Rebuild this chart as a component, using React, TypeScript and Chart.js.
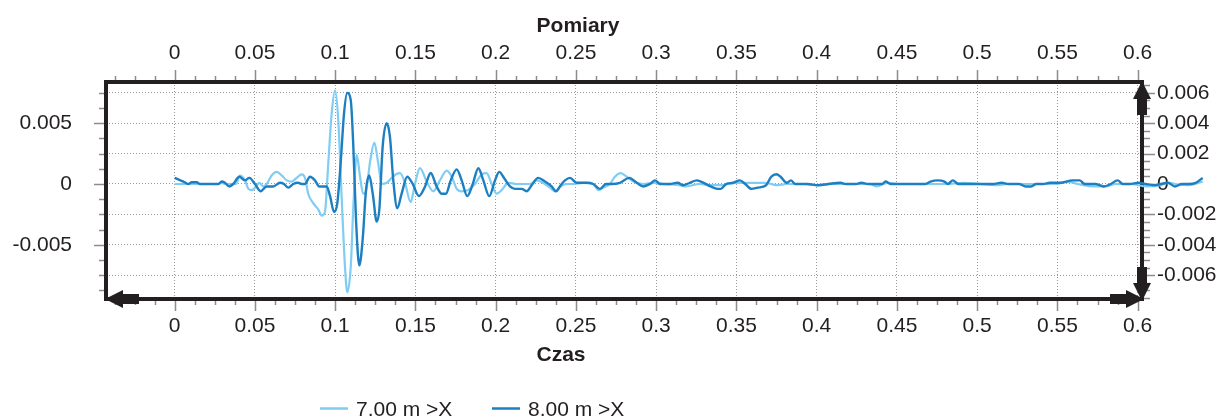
import React, { useEffect, useRef } from 'react';
import { Chart, registerables } from 'chart.js';

Chart.register(...registerables);

// ---------------- DATA ----------------
const seriesNames = ['7.00 m >X', '8.00 m >X'];

// 7.00 m >X  (time in s, amplitude)
const time7 = [
  0, 0.027, 0.0293, 0.0313, 0.0382, 0.0407, 0.0438, 0.0459, 0.048, 0.0507,
  0.0527, 0.0552, 0.0573, 0.0604, 0.0636, 0.0667, 0.0698, 0.0729, 0.076, 0.0791,
  0.0812, 0.0832, 0.0864, 0.0895, 0.0916, 0.0936, 0.0957, 0.0978, 0.0999, 0.1019,
  0.104, 0.1061, 0.1075, 0.1097, 0.1113, 0.1134, 0.1155, 0.1174, 0.1192, 0.1217,
  0.1244, 0.1267, 0.129, 0.1321, 0.1352, 0.1379, 0.1404, 0.1435, 0.147, 0.1497,
  0.1528, 0.157, 0.1611, 0.1653, 0.1695, 0.1726, 0.1757, 0.1788, 0.1829, 0.1871,
  0.1913, 0.1944, 0.1975, 0.2006, 0.2037, 0.2079, 0.2131, 0.2214, 0.2255, 0.2307,
  0.2338, 0.2369, 0.2405, 0.2442, 0.2483, 0.2546, 0.2608, 0.2639, 0.267, 0.2712,
  0.2743, 0.2779, 0.2816, 0.2857, 0.292, 0.2982, 0.3044, 0.3145, 0.3177, 0.3274,
  0.3339, 0.3403, 0.35, 0.3597, 0.3683, 0.3749, 0.3814, 0.3922, 0.4008, 0.4094,
  0.4202, 0.4331, 0.4375, 0.444, 0.4504, 0.472, 0.4806, 0.4914, 0.5022, 0.5108,
  0.5195, 0.5346, 0.5497, 0.5562, 0.5627, 0.5735, 0.58, 0.5865, 0.5951, 0.6059,
  0.6145, 0.6189, 0.6232, 0.6318, 0.6405,
];
const amp7 = [
  0, 0, 0.0001, 0, 0, 0.0007, 0.0003, -0.0004, -0.0005, -0.0002,
  0.0001, -0.0002, 0, 0.0007, 0.001, 0.0007, 0.0003, 0.0002, 0.0005, 0.0008,
  0.0005, -0.0008, -0.0016, -0.0021, -0.0026, -0.0023, 0.0017, 0.0058, 0.0077, 0.0053,
  -0.001, -0.0068, -0.0089, -0.0068, -0.0019, 0.0024, 0.0006, -0.0008, -0.0006, 0.0018,
  0.0034, 0.0018, 0, 0.0001, 0.0005, 0.0008, 0.0009, 0.0001, -0.0015, 0,
  0.0013, 0.0002, -0.0006, 0.0003, 0.0011, 0.0006, -0.0004, -0.0006, -0.0005, 0,
  0.0008, 0.0009, 0, -0.0008, -0.0005, 0.0001, 0, 0, 0.0003, 0,
  -0.0003, -0.0006, -0.0002, 0, 0, 0.0001, 0, -0.0005, -0.0003, 0,
  0.0006, 0.0009, 0.0006, 0.0002, 0, 0.0001, 0, -0.0001, -0.0002, 0,
  -0.0001, -0.0001, 0.0001, 0.0001, 0.0001, -0.0001, 0, 0, -0.0001, 0,
  0, 0, -0.0002, 0.0001, 0, 0, 0, 0.0001, 0, -0.0001,
  0, 0, 0, 0.0002, 0, -0.0002, -0.0002, 0, 0, -0.0002,
  -0.0001, 0.0001, 0, -0.0001, 0.0002,
];

// 8.00 m >X
const time8 = [
  0, 0.0054, 0.0085, 0.0106, 0.0137, 0.0158, 0.0272, 0.0293, 0.0313, 0.034,
  0.0365, 0.0402, 0.0438, 0.0465, 0.05, 0.0536, 0.0573, 0.0614, 0.0656, 0.0681,
  0.0708, 0.0739, 0.0768, 0.0791, 0.0812, 0.0843, 0.0874, 0.0901, 0.0947, 0.0968,
  0.0993, 0.1013, 0.1034, 0.1055, 0.1075, 0.1097, 0.1113, 0.113, 0.115, 0.1171,
  0.1192, 0.1212, 0.1234, 0.1259, 0.1275, 0.1296, 0.1321, 0.1341, 0.1362, 0.1387,
  0.1414, 0.1449, 0.1483, 0.1522, 0.156, 0.1595, 0.1632, 0.1664, 0.169, 0.172,
  0.1757, 0.1788, 0.1823, 0.1857, 0.1892, 0.1923, 0.196, 0.1996, 0.2022, 0.2052,
  0.2089, 0.212, 0.2162, 0.2193, 0.2224, 0.2265, 0.2307, 0.2349, 0.2376, 0.2405,
  0.2432, 0.2463, 0.2505, 0.2567, 0.2608, 0.265, 0.2687, 0.2723, 0.2774, 0.2832,
  0.2879, 0.292, 0.2961, 0.2993, 0.3024, 0.3082, 0.3135, 0.3166, 0.321, 0.3253,
  0.3296, 0.3339, 0.3382, 0.3403, 0.3436, 0.3479, 0.3522, 0.3555, 0.3594, 0.3631,
  0.3685, 0.3717, 0.3749, 0.3775, 0.3814, 0.3839, 0.3867, 0.3943, 0.4008, 0.4073,
  0.4148, 0.4181, 0.4246, 0.4278, 0.4321, 0.4407, 0.4429, 0.4461, 0.459, 0.4677,
  0.4709, 0.4753, 0.4796, 0.4817, 0.4849, 0.4882, 0.4958, 0.5022, 0.5098, 0.5152,
  0.5195, 0.526, 0.5303, 0.5336, 0.5368, 0.5411, 0.5454, 0.5519, 0.5594, 0.5638,
  0.567, 0.5735, 0.5789, 0.5832, 0.5875, 0.5907, 0.5951, 0.6005, 0.6048, 0.6102,
  0.6145, 0.6189, 0.6232, 0.6275, 0.6318, 0.6362, 0.6405,
];
const amp8 = [
  0.0005, 0.0002, 0, 0.00015, 0.00015, 0, 0, 0.0002, 0.0001, -0.0002,
  0, 0.0006, 0.0003, 0.0005, 0, -0.0006, -0.0002, -0.0002, 0.0001, 0,
  -0.0003, 0, 0.0001, 0, 0, 0.0006, 0.0003, -0.0002, -0.0002, -0.001,
  -0.0023, -0.0016, 0.0017, 0.0058, 0.0075, 0.0069, 0.0031, -0.003, -0.0067, -0.0046,
  -0.0005, 0.0007, -0.0008, -0.0031, -0.0021, 0.0031, 0.005, 0.0039, 0.0003, -0.002,
  -0.0008, 0.0006, 0, -0.001, -0.0002, 0.0009, -0.0002, -0.0008, -0.0008, 0.0003,
  0.0012, 0.0003, -0.001, 0, 0.0013, 0.0003, -0.001, 0.0003, 0.001, 0.0005,
  -0.0002, -0.0004, -0.0004, -0.0006, -0.0001, 0.0005, 0.0002, -0.0002, -0.0006, -0.0001,
  0.0003, 0.0005, 0.0001, 0.0001, 0, -0.0004, 0, 0, 0.0001, 0.0005,
  0.0001, -0.0002, 0, 0.0003, 0, 0, 0.0001, -0.0001, 0.0001, 0.0003,
  0.0001, -0.0002, -0.0004, -0.0004, 0, 0.0001, 0.0003, 0, -0.0004, -0.0003,
  -0.0001, 0.0006, 0.0008, 0.0006, 0.0001, 0.0003, 0, 0, -0.0001, 0,
  0.0001, 0, 0, 0.0001, 0, 0, 0.0002, 0, 0, 0,
  0.0002, 0.0003, 0.0002, 0, 0.0003, 0, 0, 0, 0, 0.0001,
  0, 0, -0.0002, -0.0002, 0, 0, 0.0001, 0.0001, 0.0003, 0.0003,
  0, 0, -0.0002, 0, 0.0003, 0, 0, 0.0001, 0, -0.0001,
  0, 0.0001, -0.0002, 0, 0, 0.0001, 0.0005,
];

// tick values and labels
const xTicks = [0, 0.05, 0.1, 0.15, 0.2, 0.25, 0.3, 0.35, 0.4, 0.45, 0.5, 0.55, 0.6];
const xLabels = ['0', '0.05', '0.1', '0.15', '0.2', '0.25', '0.3', '0.35', '0.4', '0.45', '0.5', '0.55', '0.6'];
const yLeftTicks = [-0.0075, -0.005, -0.0025, 0, 0.0025, 0.005, 0.0075];
const yLeftLabels = ['', '-0.005', '', '0', '', '0.005', ''];
const yRightTicks = [-0.006, -0.004, -0.002, 0, 0.002, 0.004, 0.006];
const yRightLabels = ['-0.006', '-0.004', '-0.002', '0', '0.002', '0.004', '0.006'];

const xTitleTop = 'Pomiary';
const xTitleBottom = 'Czas';

// axis ranges
const X_MIN = -0.0428;
const X_MAX = 0.6027;
const Y_MIN = -0.009465;
const Y_MAX = 0.008395;
const Y2_MIN = -0.007572;
const Y2_MAX = 0.006716;

// ---------------- STYLE ----------------
const FONT = "'Liberation Sans', Arial, Helvetica, sans-serif";
const TEXT = '#231f20';
const FRAME = '#231f20';
const GRID = '#9a9a9a';
const TICK = '#8c8c8c';
const LIGHT = '#7fcdf2';
const DARK = '#1d7fc2';

function drawArrow(ctx: CanvasRenderingContext2D, tx: number, ty: number, dx: number, dy: number) {
  const px = -dy;
  const py = dx;
  const triLen = 18;
  const triHalf = 9;
  const rectLen = 16;
  const rectHalf = 5;
  const bx = tx - dx * triLen;
  const by = ty - dy * triLen;
  ctx.beginPath();
  ctx.moveTo(tx, ty);
  ctx.lineTo(bx + px * triHalf, by + py * triHalf);
  ctx.lineTo(bx - px * triHalf, by - py * triHalf);
  ctx.closePath();
  ctx.fill();
  const ex = bx - dx * rectLen;
  const ey = by - dy * rectLen;
  ctx.beginPath();
  ctx.moveTo(bx + px * rectHalf, by + py * rectHalf);
  ctx.lineTo(ex + px * rectHalf, ey + py * rectHalf);
  ctx.lineTo(ex - px * rectHalf, ey - py * rectHalf);
  ctx.lineTo(bx - px * rectHalf, by - py * rectHalf);
  ctx.closePath();
  ctx.fill();
}

const framePlugin = {
  id: 'frameDecor',
  beforeDatasetsDraw(chart: any) {
    const { ctx, chartArea, scales } = chart;
    const { left, right, top, bottom } = chartArea;
    ctx.save();
    // tick marks
    ctx.strokeStyle = TICK;
    ctx.lineWidth = 1.5;
    const xs = scales.x;
    const xStep = 0.0125;
    for (let k = Math.ceil(X_MIN / xStep); k <= Math.floor(X_MAX / xStep); k++) {
      const p = Math.round(xs.getPixelForValue(k * xStep)) + 0.5;
      const major = k % 4 === 0 && k >= 0;
      const len = major ? 12 : 6;
      ctx.beginPath();
      ctx.moveTo(p, top);
      ctx.lineTo(p, top - len);
      ctx.moveTo(p, bottom);
      ctx.lineTo(p, bottom + len);
      ctx.stroke();
    }
    const ys = scales.y;
    const yStep = 0.00125;
    for (let k = Math.ceil(Y_MIN / yStep); k <= Math.floor(Y_MAX / yStep); k++) {
      const p = Math.round(ys.getPixelForValue(k * yStep)) + 0.5;
      const major = k % 4 === 0;
      const len = major ? 12 : 7;
      ctx.beginPath();
      ctx.moveTo(left, p);
      ctx.lineTo(left - len, p);
      ctx.stroke();
    }
    const y2 = scales.y2;
    const y2Step = 0.0005;
    for (let k = Math.ceil(Y2_MIN / y2Step); k <= Math.floor(Y2_MAX / y2Step); k++) {
      const p = Math.round(y2.getPixelForValue(k * y2Step)) + 0.5;
      const major = k % 4 === 0;
      const len = major ? 13 : 8;
      ctx.beginPath();
      ctx.moveTo(right, p);
      ctx.lineTo(right + len, p);
      ctx.stroke();
    }
    // frame
    ctx.strokeStyle = FRAME;
    ctx.fillStyle = FRAME;
    ctx.lineWidth = 4;
    ctx.lineCap = 'square';
    ctx.beginPath();
    ctx.moveTo(left, top);
    ctx.lineTo(right, top);
    ctx.moveTo(left, top);
    ctx.lineTo(left, bottom);
    ctx.moveTo(left, bottom);
    ctx.lineTo(right, bottom);
    ctx.moveTo(right, top);
    ctx.lineTo(right, bottom);
    ctx.stroke();
    drawArrow(ctx, left - 1, bottom, -1, 0);
    drawArrow(ctx, right + 2, bottom, 1, 0);
    drawArrow(ctx, right, top - 1, 0, -1);
    drawArrow(ctx, right, bottom + 2, 0, 1);
    // axis titles
    ctx.fillStyle = TEXT;
    ctx.font = `bold 21px ${FONT}`;
    ctx.textAlign = 'center';
    ctx.textBaseline = 'alphabetic';
    ctx.fillText(xTitleTop, 578, 32);
    ctx.fillText(xTitleBottom, 561, 361);
    // legend
    const items = [
      { x: 320, color: LIGHT, width: 2.5 },
      { x: 492, color: DARK, width: 2.5 },
    ];
    ctx.font = `21px ${FONT}`;
    ctx.textAlign = 'left';
    items.forEach((it, i) => {
      ctx.strokeStyle = it.color;
      ctx.lineWidth = it.width;
      ctx.lineCap = 'butt';
      ctx.beginPath();
      ctx.moveTo(it.x, 408.5);
      ctx.lineTo(it.x + 28, 408.5);
      ctx.stroke();
      ctx.fillStyle = TEXT;
      ctx.fillText(seriesNames[i], it.x + 36, 416);
    });
    ctx.restore();
  },
};

const tickFont = { family: FONT, size: 21, lineHeight: 1.2 };

export default function App() {
  const ref = useRef<HTMLCanvasElement>(null);
  useEffect(() => {
    if (!ref.current) return;
    const data7 = time7.map((t, i) => ({ x: t, y: amp7[i] }));
    const data8 = time8.map((t, i) => ({ x: t, y: amp8[i] }));
    const chart = new Chart(ref.current, {
      type: 'line',
      data: {
        datasets: [
          {
            label: seriesNames[0],
            data: data7,
            borderColor: LIGHT,
            backgroundColor: LIGHT,
            borderWidth: 2.2,
            pointRadius: 0,
            cubicInterpolationMode: 'monotone',
            clip: false as any,
            order: 2,
            xAxisID: 'x',
            yAxisID: 'y',
          },
          {
            label: seriesNames[1],
            data: data8,
            borderColor: DARK,
            backgroundColor: DARK,
            borderWidth: 2.4,
            pointRadius: 0,
            cubicInterpolationMode: 'monotone',
            clip: false as any,
            order: 1,
            xAxisID: 'x',
            yAxisID: 'y',
          },
        ],
      },
      options: {
        responsive: false,
        animation: false,
        devicePixelRatio: 1,
        layout: { padding: 0 },
        plugins: { legend: { display: false }, title: { display: false }, tooltip: { enabled: false } },
        scales: {
          x: {
            type: 'linear',
            position: 'bottom',
            bounds: 'data',
            afterDataLimits: (s: any) => { s.min = X_MIN; s.max = X_MAX; },
            afterBuildTicks: (s: any) => { s.ticks = xTicks.map((v) => ({ value: v })); },
            afterFit: (s: any) => { s.height = 118; },
            grid: { display: true, drawTicks: false, color: GRID, lineWidth: 1 },
            border: { display: false, dash: [1, 2] },
            ticks: {
              autoSkip: false, maxRotation: 0, minRotation: 0, padding: 14.5, color: TEXT, font: tickFont,
              callback: (v: any) => xLabels[xTicks.indexOf(v)] ?? '',
            },
          },
          x2: {
            type: 'linear',
            position: 'top',
            min: X_MIN,
            max: X_MAX,
            afterBuildTicks: (s: any) => { s.ticks = xTicks.map((v) => ({ value: v })); },
            afterFit: (s: any) => { s.height = 82; },
            grid: { display: false, drawTicks: false },
            border: { display: false },
            ticks: {
              autoSkip: false, maxRotation: 0, minRotation: 0, padding: 16.5, color: TEXT, font: tickFont,
              callback: (v: any) => xLabels[xTicks.indexOf(v)] ?? '',
            },
          },
          y: {
            type: 'linear',
            position: 'left',
            min: Y_MIN,
            max: Y_MAX,
            afterBuildTicks: (s: any) => { s.ticks = yLeftTicks.map((v) => ({ value: v })); },
            afterFit: (s: any) => { s.width = 106; },
            grid: { display: true, drawTicks: false, color: GRID, lineWidth: 1 },
            border: { display: false, dash: [1, 2] },
            ticks: {
              autoSkip: false, padding: 34, color: TEXT, font: tickFont,
              callback: (v: any) => yLeftLabels[yLeftTicks.indexOf(v)] ?? '',
            },
          },
          y2: {
            type: 'linear',
            position: 'right',
            min: Y2_MIN,
            max: Y2_MAX,
            afterBuildTicks: (s: any) => { s.ticks = yRightTicks.map((v) => ({ value: v })); },
            afterFit: (s: any) => { s.width = 79; },
            grid: { display: false, drawTicks: false },
            border: { display: false },
            ticks: {
              autoSkip: false, padding: 15, color: TEXT, font: tickFont,
              callback: (v: any) => yRightLabels[yRightTicks.indexOf(v)] ?? '',
            },
          },
        },
      } as any,
      plugins: [framePlugin],
    });
    return () => chart.destroy();
  }, []);
  return (
    <div style={{ position: 'fixed', left: 0, top: 0, width: 1221, height: 417, background: '#fff' }}>
      <canvas ref={ref} width={1221} height={417} style={{ display: 'block', width: 1221, height: 417 }} />
    </div>
  );
}
